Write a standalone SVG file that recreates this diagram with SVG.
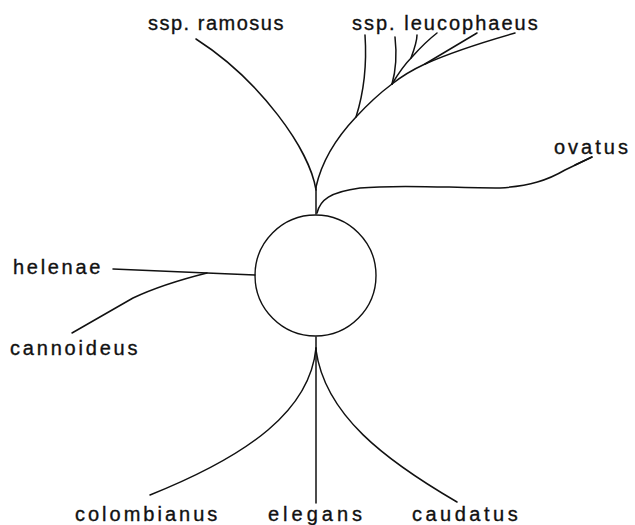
<svg xmlns="http://www.w3.org/2000/svg" width="635" height="525" viewBox="0 0 635 525">
<style>
.l{fill:none;stroke:#111;stroke-width:1.5;stroke-linecap:round;stroke-linejoin:round}
.t{font-family:"Liberation Sans",Arial,sans-serif;font-size:20px;fill:#111;stroke:#111;stroke-width:0.35}
</style>
<rect width="635" height="525" fill="#fff"/>
<g id="center"><circle cx="315.5" cy="275.5" r="60.5" fill="none" stroke="#111" stroke-width="1.4"/></g>
<g id="connectors">
<path class="l" d="M316,214 L316,187"/>
<path class="l" d="M316,190 C310,150 260,80 196,39"/>
<path class="l" d="M316,187 C322,160 338,136 356,117 C368,104 380,93 392,84"/>
<path class="l" d="M356,117 C363,95 367,65 365,35"/>
<path class="l" d="M392,84 C396,70 397,55 395,37"/>
<path class="l" d="M392,84 C398,74 405,64 412,57 C420,48 428,40 437,33"/>
<path class="l" d="M411,58 C414,50 417,42 417,35"/>
<path class="l" d="M392,84 C402,76 412,70 425,64 C445,55 480,43 515,33"/>
<path class="l" d="M425,64 C445,52 462,42 477,33"/>
<path class="l" d="M317,213 C320,200 330,192 360,188 C400,184 450,188 500,188 C530,186 548,180 565,170 L592,157"/>
<path class="l" d="M575,165 L592,157" stroke-width="3"/>
<path class="l" d="M113,269 L207,273 L255,275"/>
<path class="l" d="M72,333 L133,298 C150,290 175,281 207,273"/>
<path class="l" d="M316,337 L316,350"/>
<path class="l" d="M316,348 C310,410 250,455 150,495"/>
<path class="l" d="M316,348 L316,503"/>
<path class="l" d="M316,350 C325,415 385,460 457,502"/>
</g>
<g id="ramosus"><text class="t" x="148" y="30" letter-spacing="1.5">ssp. ramosus</text></g>
<g id="leucophaeus"><text class="t" x="352" y="30" letter-spacing="2">ssp. leucophaeus</text></g>
<g id="ovatus"><text class="t" x="554" y="154" letter-spacing="3">ovatus</text></g>
<g id="helenae"><text class="t" x="13" y="274" letter-spacing="2.7">helenae</text></g>
<g id="cannoideus"><text class="t" x="10" y="355" letter-spacing="2.8">cannoideus</text></g>
<g id="colombianus"><text class="t" x="75" y="521" letter-spacing="3">colombianus</text></g>
<g id="elegans"><text class="t" x="268" y="521" letter-spacing="4">elegans</text></g>
<g id="caudatus"><text class="t" x="412" y="521" letter-spacing="3.5">caudatus</text></g>
</svg>
